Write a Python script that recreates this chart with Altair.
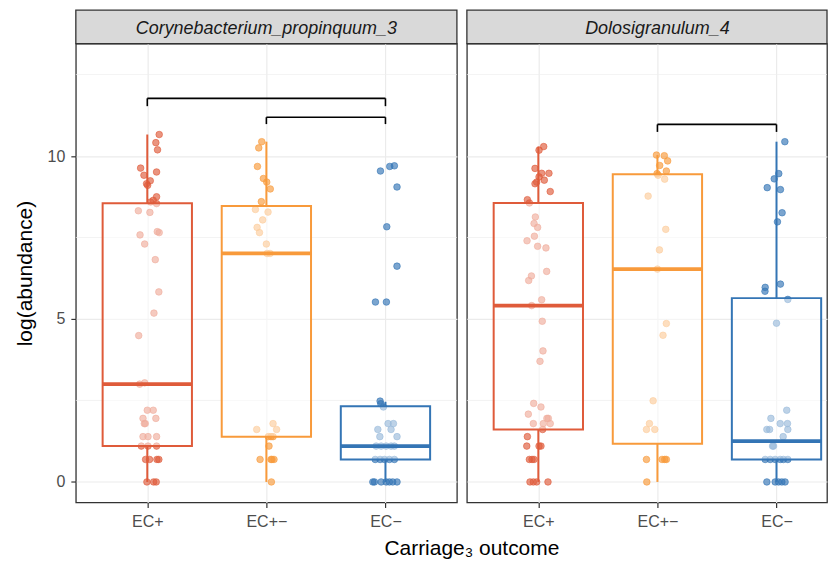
import altair as alt
import pandas as pd

# ---------------- data ----------------
PANELS = ["Corynebacterium_propinquum_3", "Dolosigranulum_4"]
CATEGORIES = ["EC+", "EC+\u2212", "EC\u2212"]
COLORS = ["#DF5B3A", "#F89A3B", "#3475B5"]
X_TITLE = "Carriage\u2083 outcome"
Y_TITLE = "log(abundance)"
Y_TICKS = [0, 5, 10]
MINOR_GRID = [2.5, 7.5, 12.5]

# Corynebacterium_propinquum_3 : log(abundance) and horizontal jitter per group
C_ECP_VAL = [10.66, 10.41, 10.19, 9.63, 9.51, 9.41, 9.24, 9.15, 9.10, 8.75, 8.64, 8.59, 8.54,
             8.32, 8.27, 7.68, 7.65, 7.58, 7.30, 6.82, 5.83, 5.18, 4.49, 3.00, 3.04, 2.20, 2.20,
             1.95, 1.95, 1.79, 1.79, 1.39, 1.39, 1.39, 1.10, 1.10, 1.10, 0.69, 0.69, 0.69, 0.69,
             0.0, 0.0, 0.0]
C_ECP_JIT = [0.100, 0.072, 0.086, -0.056, 0.078, -0.028, 0.025, -0.006, 0.003, 0.078, 0.050, 0.028, 0.078,
             -0.075, 0.022, 0.084, 0.100, -0.061, -0.022, 0.067, 0.097, 0.056, -0.072, -0.064, -0.022, 0.0, 0.050,
             -0.036, 0.072, -0.025, -0.017, -0.036, 0.006, 0.078, -0.050, 0.006, 0.078, -0.014, 0.019, 0.081, 0.097,
             -0.003, 0.053, 0.075]
C_ECPM_VAL = [10.44, 10.25, 9.68, 9.31, 9.20, 8.99, 8.60, 8.36, 8.28, 8.04, 7.81, 7.65, 7.30, 7.01, 7.01,
              1.79, 1.61, 1.61, 1.39, 1.39, 1.39, 1.10, 0.69, 0.69, 0.69, 0.69, 0.0]
C_ECPM_JIT = [-0.039, -0.064, -0.075, -0.025, 0.003, 0.033, -0.042, -0.092, 0.014, -0.031, -0.078, -0.058, 0.0, 0.006, 0.031,
              0.056, 0.086, -0.081, 0.039, 0.017, 0.056, 0.022, -0.053, 0.039, 0.064, 0.047, 0.042]
C_ECM_VAL = [9.54, 9.68, 9.70, 9.05, 7.83, 6.62, 5.52, 5.52, 2.48, 2.40, 2.30, 1.79, 1.79, 1.61, 1.61, 1.39, 1.39,
             1.10, 1.10, 1.10, 1.10, 1.10, 0.69, 0.69, 0.69, 0.69, 0.69,
             0.0, 0.0, 0.0, 0.0, 0.0, 0.0, 0.0]
C_ECM_JIT = [-0.042, 0.036, 0.075, 0.097, 0.011, 0.097, -0.084, 0.008, -0.045, -0.039, -0.017, 0.022, 0.067, -0.064, 0.047, -0.047, 0.097,
             -0.078, -0.036, 0.006, 0.047, 0.075, -0.086, -0.045, -0.008, 0.033, 0.075,
             -0.106, -0.092, -0.036, 0.006, 0.033, 0.061, 0.097]

# Dolosigranulum_4
D_ECP_VAL = [10.29, 10.18, 9.62, 9.47, 9.47, 9.36, 9.26, 9.20, 9.15, 8.91, 8.66, 8.56, 8.13, 7.93, 7.81, 7.54,
             7.40, 7.23, 7.18, 6.46, 6.32, 6.18, 5.59, 5.41, 4.93, 4.02, 3.70, 2.41, 2.30, 2.08, 1.95, 1.95,
             1.79, 1.79, 1.79, 1.61, 1.39, 1.10, 1.10, 1.10, 0.69, 0.69, 0.69, 0.0, 0.0, 0.0, 0.0]
D_ECP_JIT = [0.045, 0.006, -0.028, 0.028, 0.089, 0.006, 0.050, -0.014, -0.028, 0.100, -0.092, -0.075, -0.025, -0.036, -0.006, -0.033,
             -0.095, -0.006, 0.064, 0.070, -0.058, -0.081, 0.028, -0.056, 0.033, 0.039, 0.014, -0.039, 0.022, -0.084, 0.072, 0.084,
             -0.042, 0.042, 0.100, 0.036, -0.092, -0.097, 0.006, 0.022, -0.075, -0.053, -0.036, -0.070, -0.042, -0.014, 0.081]
D_ECPM_VAL = [10.03, 10.01, 9.85, 9.71, 9.54, 9.46, 9.41, 9.29, 8.77, 7.75, 7.12, 6.53, 4.86, 4.50, 2.49,
              1.79, 1.61, 1.61, 0.69, 0.69, 0.69, 0.69, 0.0]
D_ECPM_JIT = [-0.008, 0.058, 0.086, 0.019, 0.075, -0.003, 0.006, 0.061, -0.078, 0.070, 0.017, 0.0, 0.075, 0.047, -0.036,
              -0.067, -0.092, -0.022, -0.092, 0.039, 0.061, 0.075, -0.089]
D_ECM_VAL = [10.44, 9.46, 9.30, 9.03, 8.97, 8.26, 7.98, 6.07, 5.97, 5.85, 5.60, 4.87, 2.20, 1.95, 1.79, 1.79,
             1.61, 1.61, 1.61, 1.39, 1.10, 1.10, 0.69, 0.69, 0.69, 0.69, 0.69, 0.69, 0.0, 0.0, 0.0, 0.0, 0.0]
D_ECM_JIT = [0.070, 0.019, -0.019, -0.078, 0.033, 0.047, 0.008, 0.033, -0.095, -0.097, 0.095, 0.0, 0.086, -0.047, 0.031, 0.092,
             -0.081, -0.058, 0.095, 0.056, -0.033, -0.025, -0.095, -0.053, -0.011, 0.031, 0.058, 0.095, -0.081, -0.011, 0.017, 0.045, 0.072]

# box statistics (panel index, group index)
BOX_PANEL = [0, 0, 0, 1, 1, 1]
BOX_GROUP = [0, 1, 2, 0, 1, 2]
BOX_LO = [0.0, 0.0, 0.0, 0.0, 0.0, 0.0]
BOX_Q1 = [1.10, 1.39, 0.69, 1.61, 1.17, 0.69]
BOX_MED = [3.00, 7.01, 1.10, 5.41, 6.53, 1.25]
BOX_Q3 = [8.55, 8.47, 2.32, 8.56, 9.44, 5.64]
BOX_HI = [10.66, 10.44, 2.46, 10.29, 10.03, 10.44]

# significance brackets
BR_PANEL = [0, 0, 1]
BR_FROM = [0, 1, 1]
BR_TO = [2, 2, 2]
BR_Y = [11.77, 11.19, 10.97]
BR_TIP = [11.53, 10.98, 10.74]

# ---------------- tables ----------------
point_sets = [
    (0, 0, C_ECP_VAL, C_ECP_JIT), (0, 1, C_ECPM_VAL, C_ECPM_JIT), (0, 2, C_ECM_VAL, C_ECM_JIT),
    (1, 0, D_ECP_VAL, D_ECP_JIT), (1, 1, D_ECPM_VAL, D_ECPM_JIT), (1, 2, D_ECM_VAL, D_ECM_JIT),
]
rows = []
for p, g, vals, jits in point_sets:
    for v, j in zip(vals, jits):
        rows.append({"panel": p, "group": CATEGORIES[g], "pos": g + j, "value": v})
df_pts = pd.DataFrame(rows)

df_box = pd.DataFrame({
    "panel": BOX_PANEL, "idx": BOX_GROUP, "group": [CATEGORIES[g] for g in BOX_GROUP],
    "lo": BOX_LO, "q1": BOX_Q1, "med": BOX_MED, "q3": BOX_Q3, "hi": BOX_HI,
})
df_box["x1"] = df_box["idx"] - 0.375
df_box["x2"] = df_box["idx"] + 0.375

df_br = pd.DataFrame({"panel": BR_PANEL, "x1": BR_FROM, "x2": BR_TO, "y": BR_Y, "tip": BR_TIP})
df_minor = pd.DataFrame({"v": MINOR_GRID})

FONT = "Liberation Sans"
LABEL_EXPR = "[" + ",".join("'" + c + "'" for c in CATEGORIES) + "][datum.value]"
color_scale = alt.Scale(domain=CATEGORIES, range=COLORS)
FULL_W = 382
STRIP_H = 33.5
Y_SCALE = alt.Scale(domain=[-0.63, 13.45], nice=False, zero=False)


def make_panel(pi, width):
    first = pi == 0
    # same unit size in both panels; the right panel is cut at the page edge
    x_scale = alt.Scale(domain=[-0.6, -0.6 + 3.2 * width / FULL_W], nice=False, zero=False)
    x_axis = alt.Axis(values=[0, 1, 2], labelExpr=LABEL_EXPR, title=None, grid=True,
                      domain=False, labelPadding=6, labelAngle=0)
    if first:
        y_axis = alt.Axis(values=Y_TICKS, title=Y_TITLE, grid=True, domain=False,
                          labelPadding=6, titlePadding=12)
    else:
        y_axis = alt.Axis(values=Y_TICKS, title=None, grid=True, domain=False,
                          labels=False, ticks=False)

    X = lambda f: alt.X(f, scale=x_scale, axis=x_axis)
    Y = lambda f: alt.Y(f, scale=Y_SCALE, axis=y_axis)
    col = alt.Color("group:N", scale=color_scale, legend=None)
    stk = alt.Stroke("group:N", scale=color_scale, legend=None)

    pts_d = df_pts[df_pts.panel == pi]
    box_d = df_box[df_box.panel == pi]
    br_d = df_br[df_br.panel == pi]

    minor = alt.Chart(df_minor).mark_rule(color="#EEEEEE", strokeWidth=0.7).encode(y=Y("v:Q"))
    pts = alt.Chart(pts_d).mark_circle(size=44, fillOpacity=0.65, strokeOpacity=0.75,
                                       strokeWidth=0.8).encode(x=X("pos:Q"), y=Y("value:Q"),
                                                               color=col, stroke=stk)
    wlo = alt.Chart(box_d).mark_rule(strokeWidth=2).encode(x=X("idx:Q"), y=Y("lo:Q"), y2="q1:Q", color=col)
    whi = alt.Chart(box_d).mark_rule(strokeWidth=2).encode(x=X("idx:Q"), y=Y("q3:Q"), y2="hi:Q", color=col)
    box = alt.Chart(box_d).mark_rect(fill="white", fillOpacity=0.5, strokeWidth=2).encode(
        x=X("x1:Q"), x2="x2:Q", y=Y("q1:Q"), y2="q3:Q", stroke=stk)
    med = alt.Chart(box_d).mark_rule(strokeWidth=3.8).encode(x=X("x1:Q"), x2="x2:Q", y=Y("med:Q"), color=col)

    layers = [minor, pts, wlo, whi, box, med]
    if len(br_d):
        layers += [
            alt.Chart(br_d).mark_rule(color="black", strokeWidth=1.6).encode(x=X("x1:Q"), x2="x2:Q", y=Y("y:Q")),
            alt.Chart(br_d).mark_rule(color="black", strokeWidth=1.6).encode(x=X("x1:Q"), y=Y("tip:Q"), y2="y:Q"),
            alt.Chart(br_d).mark_rule(color="black", strokeWidth=1.6).encode(x=X("x2:Q"), y=Y("tip:Q"), y2="y:Q"),
        ]

    strip_d = pd.DataFrame({"name": [PANELS[pi]]})
    strip = alt.Chart(strip_d).mark_rect(fill="#D9D9D9", stroke="#333333", strokeWidth=1.3).encode(
        x=alt.value(0), x2=alt.value(width), y=alt.value(-STRIP_H), y2=alt.value(0))
    strip_t = alt.Chart(strip_d).mark_text(font=FONT, fontSize=18, fontStyle="italic", color="#1A1A1A",
                                           align="center", baseline="alphabetic").encode(
        x=alt.value(FULL_W / 2), y=alt.value(-10), text="name:N")
    layers += [strip, strip_t]

    if first:
        xt = alt.Chart(pd.DataFrame({"t": [X_TITLE]})).mark_text(
            font=FONT, fontSize=21, color="black", align="center", baseline="middle").encode(
            x=alt.value(397), y=alt.value(507), text="t:N")
        layers.append(xt)

    return alt.layer(*layers).properties(width=width, height=460)


chart = alt.hconcat(make_panel(0, FULL_W), make_panel(1, 361), spacing=10, bounds="flush").properties(
    padding={"left": 5, "top": 0, "right": 0, "bottom": 0}
).configure_view(stroke="#333333", strokeWidth=1.3).configure_axis(
    gridColor="#EBEBEB", gridWidth=1.2, tickColor="#333333", tickWidth=1.2, tickSize=5,
    labelColor="#4D4D4D", labelFontSize=16, labelFont=FONT,
    titleFont=FONT, titleFontSize=21, titleFontWeight="normal", titleColor="black",
)

chart.save("out.html", embed_options={"renderer": "svg", "actions": False})
